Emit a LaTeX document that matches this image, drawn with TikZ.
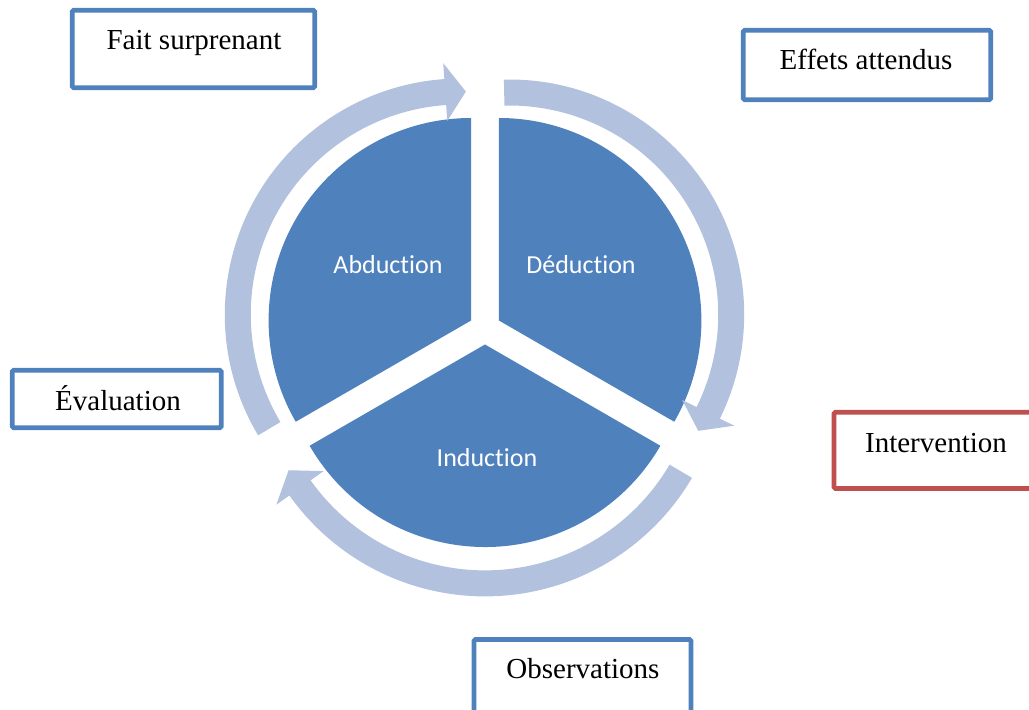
\documentclass[tikz,border=0pt]{standalone}
\usepackage{fontspec}
\setmainfont{Liberation Serif}
\newfontfamily\carlito[Ligatures={NoCommon}]{Carlito}
\definecolor{pieblue}{RGB}{79,129,189}
\definecolor{arrowblue}{RGB}{178,193,221}
\definecolor{boxblue}{RGB}{79,129,189}
\definecolor{boxred}{RGB}{192,80,77}
\newcommand\cycarrow[5]{%
  \fill[cyc,shift={(#1,#2)}] ({#4}:{#3+13}) arc[start angle={#4},end angle={#5},radius={#3+13}]
    -- ({#5}:{#3+29}) -- ({#5-5.3}:{#3}) -- ({#5}:{#3-29}) -- ({#5}:{#3-13})
    arc[start angle={#5},end angle={#4},radius={#3-13}] -- cycle;}
\begin{document}
\begin{tikzpicture}[x=1pt,y=1pt,
  box/.style={draw=boxblue, line width=4.8pt, fill=white, rounded corners=1.5pt, inner sep=0pt},
  lbl/.style={font=\fontsize{29}{34}\selectfont, anchor=base, inner sep=0pt},
  seclbl/.style={font=\carlito\fontsize{26}{31}\selectfont, text=white, anchor=base, inner sep=0pt},
  sector/.style={fill=pieblue},
  cyc/.style={fill=arrowblue}]
\useasboundingbox (0,0) rectangle (1029,710);
\clip (0,0) rectangle (1029,710);
% sectors
\fill[sector] (471.1,389.5) -- ++(90:202.5) arc[start angle=90,end angle=210,radius=202.5] -- cycle;
\fill[sector] (498.9,389.5) -- ++(90:202.5) arc[start angle=90,end angle=-30,radius=202.5] -- cycle;
\fill[sector] (485,365.5) -- ++(210:202.5) arc[start angle=210,end angle=330,radius=202.5] -- cycle;
% cycle arrows
\cycarrow{460.8}{395.5}{223}{210.8}{94}
\cycarrow{509.2}{395.5}{222}{91.3}{-26.3}
\cycarrow{485}{353.6}{227}{-30.4}{-144.6}
% sector labels
\node[seclbl] (abd) at (388,436) {Abduction};
\node[seclbl] (ded) at (581,436) {Déduction};
\node[seclbl] (ind) at (487,243) {Induction};
% boxes
\node[box, minimum width=242.5pt, minimum height=77.5pt] (fait) at (193.5,661) {};
\node[box, minimum width=247.5pt, minimum height=69.5pt] (effets) at (867,645) {};
\node[box, minimum width=209pt, minimum height=57.5pt] (eval) at (116.75,311) {};
\node[box, draw=boxred, minimum width=209pt, minimum height=76.2pt] (interv) at (938.5,259.6) {};
\node[box, minimum width=217pt, minimum height=90.5pt] (obs) at (582.5,25.25) {};
\node[lbl] (faitT) at (194,660) {Fait surprenant};
\node[lbl] (effetsT) at (866,640) {Effets attendus};
\node[lbl] (evalT) at (118,299) {Évaluation};
\node[lbl] (intervT) at (936,257.3) {Intervention};
\node[lbl] (obsT) at (583,31.7) {Observations};
\end{tikzpicture}
\end{document}
